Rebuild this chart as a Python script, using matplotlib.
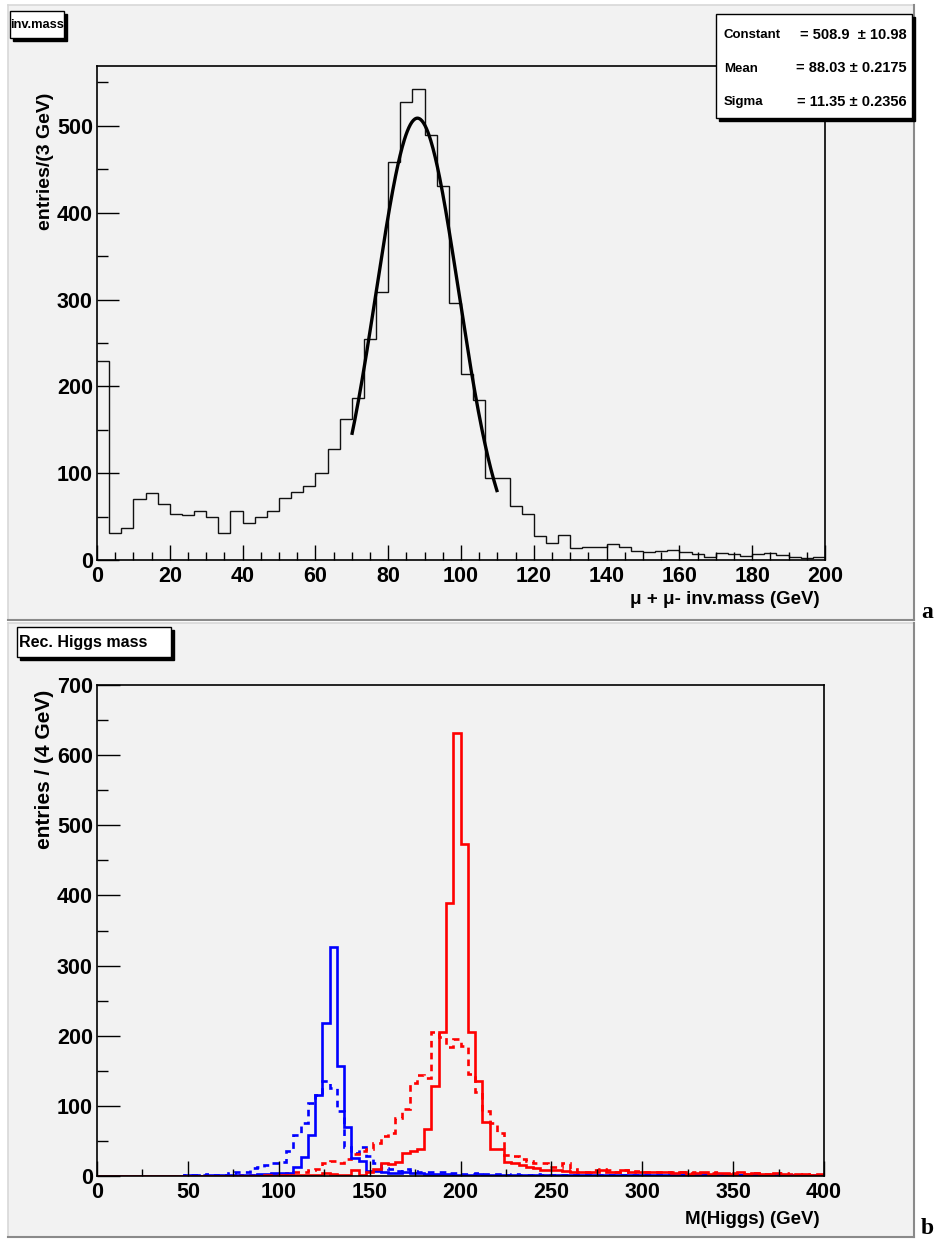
import numpy as np
import matplotlib
matplotlib.use("Agg")
import matplotlib.pyplot as plt
from matplotlib.patches import Rectangle
from matplotlib.ticker import MultipleLocator

# ---------------- data ----------------
# top panel: mu+ mu- invariant mass, 60 bins over 0..200 GeV
inv_range = (0, 200)
inv_counts = [229, 31, 37, 70, 77, 64, 53, 52, 57, 50,
              31, 56, 43, 49, 57, 71, 78, 85, 100, 128,
              162, 187, 255, 309, 459, 527, 542, 489, 431, 296,
              214, 184, 95, 95, 62, 53, 28, 20, 29, 14,
              15, 15, 18, 15, 10, 9, 10, 12, 9, 7,
              4, 8, 7, 5, 7, 8, 6, 4, 2, 3]
fit_constant = 508.9
fit_mean = 88.03
fit_sigma = 11.35
fit_range = (70, 110)
stats_labels = ["Constant", "Mean", "Sigma"]
stats_values = ["= 508.9  \u00b1 10.98", "= 88.03 \u00b1 0.2175", "= 11.35 \u00b1 0.2356"]

# bottom panel: reconstructed Higgs mass, 100 bins over 0..400 GeV
higgs_range = (0, 400)
blue_solid = [0, 0, 0, 0, 0, 0, 0, 0, 0, 0,
              0, 0, 1, 1, 0, 1, 1, 1, 2, 2,
              2, 2, 3, 3, 4, 4, 4, 13, 27, 58,
              116, 218, 326, 157, 70, 26, 21, 7, 7, 5,
              4, 4, 5, 4, 4, 3, 3, 3, 3, 2,
              2, 2, 3, 2, 2, 2, 2, 1, 2, 2,
              1, 2, 1, 2, 2, 1, 1, 2, 1, 1,
              2, 1, 1, 1, 2, 1, 1, 1, 1, 1,
              1, 1, 1, 1, 1, 1, 0, 1, 1, 0,
              1, 0, 1, 1, 0, 1, 0, 1, 0, 1]
blue_dashed = [0, 0, 0, 0, 0, 0, 0, 0, 0, 0,
               0, 0, 2, 1, 1, 3, 2, 2, 4, 6,
               5, 12, 13, 16, 18, 20, 35, 59, 76, 104,
               115, 135, 126, 92, 41, 33, 42, 28, 19, 12,
               10, 7, 10, 7, 6, 6, 5, 5, 4, 4,
               3, 3, 4, 3, 3, 3, 2, 3, 2, 2,
               3, 2, 2, 2, 2, 2, 1, 2, 2, 1,
               2, 1, 2, 1, 1, 2, 1, 1, 1, 1,
               1, 1, 1, 1, 1, 0, 1, 1, 1, 0,
               1, 1, 0, 1, 0, 1, 1, 0, 1, 0]
red_solid = [0, 0, 0, 0, 0, 0, 0, 0, 0, 0,
             0, 0, 0, 0, 0, 0, 0, 0, 0, 0,
             0, 0, 0, 1, 0, 1, 1, 2, 1, 2,
             1, 4, 3, 1, 1, 8, 1, 6, 10, 19,
             17, 20, 33, 35, 38, 67, 128, 205, 389, 632,
             474, 205, 136, 77, 38, 38, 20, 18, 15, 13,
             11, 9, 8, 8, 7, 5, 5, 6, 6, 8,
             6, 6, 8, 6, 5, 5, 5, 5, 6, 4,
             5, 3, 4, 5, 3, 4, 4, 3, 5, 3,
             4, 3, 3, 4, 3, 2, 3, 3, 2, 3]
red_dashed = [0, 0, 0, 0, 0, 0, 0, 0, 0, 0,
              0, 0, 0, 0, 0, 0, 0, 0, 0, 1,
              0, 1, 1, 1, 1, 2, 4, 5, 6, 8,
              10, 18, 22, 18, 24, 32, 35, 38, 47, 57,
              62, 82, 96, 132, 144, 140, 205, 198, 184, 196,
              185, 146, 120, 93, 75, 62, 30, 28, 24, 22,
              19, 18, 13, 13, 19, 10, 6, 6, 8, 10,
              8, 6, 8, 6, 7, 6, 5, 6, 6, 5,
              5, 4, 5, 4, 4, 5, 3, 4, 4, 3,
              4, 3, 3, 3, 4, 3, 2, 3, 2, 2]

top_xticks = [0, 20, 40, 60, 80, 100, 120, 140, 160, 180, 200]
top_yticks = [0, 100, 200, 300, 400, 500]
bot_xticks = [0, 50, 100, 150, 200, 250, 300, 350, 400]
bot_yticks = [0, 100, 200, 300, 400, 500, 600, 700]

# ---------------- figure ----------------
W, H = 935, 1239
fig = plt.figure(figsize=(W / 100, H / 100), dpi=100)
fig.patch.set_facecolor("white")
SANS = ["Liberation Sans", "DejaVu Sans"]
SERIF = ["Liberation Serif", "DejaVu Serif"]
plt.rcParams["font.family"] = SANS


def fx(x):
    return x / W


def fy(y):
    return 1 - y / H


def frect(x0, y0, x1, y1):
    return [fx(x0), fy(y1), fx(x1) - fx(x0), fy(y0) - fy(y1)]


PADBG = "#f2f2f2"


def draw_pad(x0, y0, x1, y1):
    r = Rectangle((fx(x0), fy(y1)), fx(x1) - fx(x0), fy(y0) - fy(y1),
                  transform=fig.transFigure, facecolor=PADBG, edgecolor="none", zorder=-2)
    fig.patches.append(r)
    kw = dict(transform=fig.transFigure, zorder=-1)
    fig.add_artist(plt.Line2D([fx(x0), fx(x1)], [fy(y0), fy(y0)], color="#d8d8d8", lw=1.2, **kw))
    fig.add_artist(plt.Line2D([fx(x0), fx(x0)], [fy(y0), fy(y1)], color="#d8d8d8", lw=1.2, **kw))
    fig.add_artist(plt.Line2D([fx(x0), fx(x1)], [fy(y1), fy(y1)], color="#8a8a8a", lw=1.5, **kw))
    fig.add_artist(plt.Line2D([fx(x1), fx(x1)], [fy(y0), fy(y1)], color="#8a8a8a", lw=1.5, **kw))


def shadow_box(x0, y0, x1, y1, off=3):
    s = Rectangle((fx(x0 + off), fy(y1 + off)), fx(x1) - fx(x0), fy(y0) - fy(y1),
                  transform=fig.transFigure, facecolor="black", edgecolor="black", zorder=5)
    b = Rectangle((fx(x0), fy(y1)), fx(x1) - fx(x0), fy(y0) - fy(y1),
                  transform=fig.transFigure, facecolor="white", edgecolor="black", lw=1.0, zorder=6)
    fig.patches.append(s)
    fig.patches.append(b)


draw_pad(8, 5, 914, 620)
draw_pad(8, 623, 914, 1237)


def style_axes(ax, xmaj, xmin, ymaj, ymin, xlen, ylen):
    ax.set_facecolor(PADBG)
    for sp in ax.spines.values():
        sp.set_linewidth(1.2)
        sp.set_color("black")
    ax.xaxis.set_major_locator(MultipleLocator(xmaj))
    ax.xaxis.set_minor_locator(MultipleLocator(xmin))
    ax.yaxis.set_major_locator(MultipleLocator(ymaj))
    ax.yaxis.set_minor_locator(MultipleLocator(ymin))
    ax.tick_params(axis="x", which="major", direction="in", length=xlen, width=1.0,
                   top=False, labelsize=15.5, pad=4)
    ax.tick_params(axis="x", which="minor", direction="in", length=xlen / 2, width=1.0, top=False)
    ax.tick_params(axis="y", which="major", direction="in", length=ylen, width=1.0,
                   right=False, labelsize=15.5, pad=3)
    ax.tick_params(axis="y", which="minor", direction="in", length=ylen / 2, width=1.0, right=False)
    for lab in ax.get_xticklabels() + ax.get_yticklabels():
        lab.set_fontweight("bold")


# ---------- top panel ----------
ax1 = fig.add_axes(frect(97, 66, 825, 560), zorder=2)
edges1 = np.linspace(inv_range[0], inv_range[1], len(inv_counts) + 1)
ax1.stairs(inv_counts, edges1, color="#111111", lw=1.0, baseline=None)
xf = np.linspace(fit_range[0], fit_range[1], 200)
ax1.plot(xf, fit_constant * np.exp(-0.5 * ((xf - fit_mean) / fit_sigma) ** 2),
         color="black", lw=2.4, solid_capstyle="butt")
ax1.set_xlim(*inv_range)
ax1.set_ylim(0, 569)
ax1.set_xticks(top_xticks)
ax1.set_yticks(top_yticks)
style_axes(ax1, 20, 5, 100, 50, 11, 16)

fig.text(fx(45), fy(93), "entries/(3 GeV)", rotation=90, ha="center", va="top",
         fontsize=14, fontweight="bold")
fig.text(fx(820), fy(600), "\u03bc + \u03bc- inv.mass (GeV)", ha="right", va="center",
         fontsize=13.5, fontweight="bold")

shadow_box(10, 11, 64, 38)
fig.text(fx(37), fy(25), "inv.mass", ha="center", va="center", fontsize=9.3,
         fontweight="bold", zorder=7)

shadow_box(716, 14, 912, 118)
for i, (lab, val) in enumerate(zip(stats_labels, stats_values)):
    yy = 35 + i * 33.5
    fig.text(fx(724), fy(yy), lab, ha="left", va="center", fontsize=9.5,
             fontweight="bold", zorder=7)
    fig.text(fx(907), fy(yy), val, ha="right", va="center", fontsize=10.5,
             fontweight="bold", zorder=7)

fig.text(fx(927), fy(612), "a", ha="center", va="center", fontsize=17,
         fontweight="bold", family=SERIF)

# ---------- bottom panel ----------
ax2 = fig.add_axes(frect(97, 685, 824, 1176), zorder=2)
edges2 = np.linspace(higgs_range[0], higgs_range[1], len(blue_solid) + 1)
ax2.stairs(blue_dashed, edges2, color="#0000ff", lw=1.9, linestyle=(0, (2.5, 2.0)), baseline=None)
ax2.stairs(red_dashed, edges2, color="#ff0000", lw=1.9, linestyle=(0, (2.5, 2.0)), baseline=None)
ax2.stairs(blue_solid, edges2, color="#0000ff", lw=1.9, baseline=None)
ax2.stairs(red_solid, edges2, color="#ff0000", lw=1.9, baseline=None)
ax2.set_xlim(*higgs_range)
ax2.set_ylim(0, 700)
ax2.set_xticks(bot_xticks)
ax2.set_yticks(bot_yticks)
style_axes(ax2, 50, 25, 100, 50, 10.5, 16.5)

fig.text(fx(45), fy(690), "entries / (4 GeV)", rotation=90, ha="center", va="top",
         fontsize=15, fontweight="bold")
fig.text(fx(820), fy(1220), "M(Higgs) (GeV)", ha="right", va="center",
         fontsize=13.5, fontweight="bold")

shadow_box(17, 627, 171, 657)
fig.text(fx(19), fy(642), "Rec. Higgs mass", ha="left", va="center", fontsize=11.5,
         fontweight="bold", zorder=7)

fig.text(fx(927), fy(1229), "b", ha="center", va="center", fontsize=17,
         fontweight="bold", family=SERIF)

fig.savefig("out.png", dpi=100, facecolor="white")
